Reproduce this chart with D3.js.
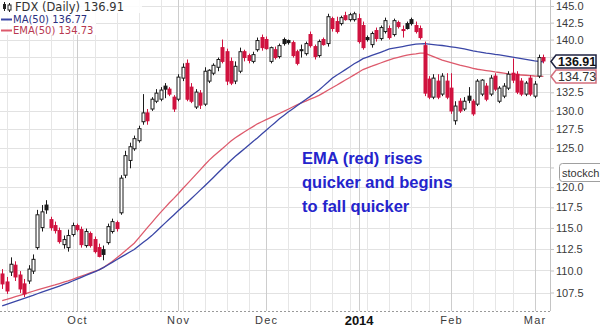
<!DOCTYPE html>
<html><head><meta charset="utf-8">
<script src="https://cdn.jsdelivr.net/npm/d3@7"></script>
<style>
html,body{margin:0;padding:0;background:#fff;}
svg{display:block;font-family:"Liberation Sans",Arial,sans-serif;}
</style></head>
<body><div id="chart"></div>
<script>
// ---------- DATA ----------
const dates = [
"2013-09-06","2013-09-09","2013-09-10","2013-09-11","2013-09-12","2013-09-13","2013-09-16","2013-09-17","2013-09-18","2013-09-19","2013-09-20","2013-09-23","2013-09-24","2013-09-25","2013-09-26","2013-09-27","2013-09-30",
"2013-10-01","2013-10-02","2013-10-03","2013-10-04","2013-10-07","2013-10-08","2013-10-09","2013-10-10","2013-10-11","2013-10-14","2013-10-15","2013-10-16","2013-10-17","2013-10-18","2013-10-21","2013-10-22","2013-10-23","2013-10-24","2013-10-25","2013-10-28","2013-10-29","2013-10-30","2013-10-31",
"2013-11-01","2013-11-04","2013-11-05","2013-11-06","2013-11-07","2013-11-08","2013-11-11","2013-11-12","2013-11-13","2013-11-14","2013-11-15","2013-11-18","2013-11-19","2013-11-20","2013-11-21","2013-11-22","2013-11-25","2013-11-26","2013-11-27","2013-11-29",
"2013-12-02","2013-12-03","2013-12-04","2013-12-05","2013-12-06","2013-12-09","2013-12-10","2013-12-11","2013-12-12","2013-12-13","2013-12-16","2013-12-17","2013-12-18","2013-12-19","2013-12-20","2013-12-23","2013-12-24","2013-12-26","2013-12-27","2013-12-30","2013-12-31",
"2014-01-02","2014-01-03","2014-01-06","2014-01-07","2014-01-08","2014-01-09","2014-01-10","2014-01-13","2014-01-14","2014-01-15","2014-01-16","2014-01-17","2014-01-21","2014-01-22","2014-01-23","2014-01-24","2014-01-27","2014-01-28","2014-01-29","2014-01-30","2014-01-31",
"2014-02-03","2014-02-04","2014-02-05","2014-02-06","2014-02-07","2014-02-10","2014-02-11","2014-02-12","2014-02-13","2014-02-14","2014-02-18","2014-02-19","2014-02-20","2014-02-21","2014-02-24","2014-02-25","2014-02-26","2014-02-27","2014-02-28",
"2014-03-03","2014-03-04","2014-03-05"];

const open = [109.60,108.69,109.82,110.61,109.48,108.47,108.80,109.93,112.66,115.04,117.78,116.00,115.28,114.68,113.01,112.66,114.21,
115.28,114.80,112.90,114.33,113.61,112.66,112.42,113.25,114.57,115.64,116.83,121.51,123.40,124.91,125.97,128.49,129.68,130.21,131.27,131.55,133.36,132.94,131.83,
131.55,134.48,136.57,133.22,130.48,132.39,130.87,134.06,135.17,136.01,138.83,138.24,136.85,134.06,135.45,138.24,137.68,136.85,138.53,140.30,
140.01,136.85,138.53,137.54,140.01,139.86,139.56,138.24,138.53,137.96,140.74,138.98,137.68,140.01,139.42,143.10,142.66,142.36,143.54,142.95,142.95,
143.10,142.07,140.30,139.27,141.33,140.15,141.18,141.63,140.74,142.51,141.48,142.36,142.95,142.07,141.63,139.12,134.34,131.83,134.06,132.25,134.06,
133.08,128.62,131.27,130.21,131.97,131.27,130.87,132.25,133.36,132.25,134.76,131.27,131.97,133.08,135.17,135.03,134.06,132.25,134.48,
131.97,134.76,137.40];
const high = [110.16,109.26,111.52,111.06,109.93,109.03,110.61,111.86,117.19,117.78,118.38,116.35,115.76,115.04,114.09,114.80,115.64,
115.52,115.16,114.92,114.57,113.97,113.13,112.90,115.52,116.12,115.88,121.51,124.65,125.71,126.64,127.96,132.25,130.21,131.83,132.94,133.22,133.78,133.22,132.11,
135.03,136.57,137.12,133.78,132.94,132.81,136.01,135.73,136.57,137.40,140.01,138.68,137.40,136.85,138.83,138.53,137.96,138.24,140.30,140.74,
140.45,138.98,138.98,139.42,140.30,140.01,139.86,138.53,139.27,139.71,141.18,139.27,140.01,140.30,143.83,143.39,143.39,143.54,144.13,143.98,144.13,
143.83,142.66,140.60,141.18,141.77,142.07,143.25,142.07,143.10,142.80,142.07,142.66,143.25,142.66,142.07,139.71,134.76,135.03,135.03,135.17,135.17,
135.17,131.27,131.69,131.83,133.22,131.55,134.34,134.34,133.78,134.90,135.17,133.36,133.78,135.45,137.26,135.45,134.48,134.06,134.90,
134.06,137.82,137.82];
const low = [107.90,107.34,109.37,108.80,107.45,107.00,108.47,109.60,112.42,114.57,116.71,114.68,114.33,113.13,112.54,112.19,113.97,
114.57,112.66,112.66,112.66,111.97,111.52,111.18,113.01,114.33,114.57,116.59,121.14,122.39,124.65,125.71,128.09,128.09,129.95,131.01,131.27,131.69,131.97,129.81,
131.27,134.06,131.27,131.01,130.21,130.21,130.61,133.78,134.89,135.45,136.57,133.50,133.50,133.64,135.17,136.85,136.57,136.57,138.24,138.39,
138.53,136.57,137.12,137.26,139.12,139.27,137.40,136.29,137.40,137.68,138.83,137.12,137.40,139.12,138.98,141.18,140.89,142.07,142.80,142.66,142.66,
139.42,138.53,139.71,138.83,139.71,139.86,140.89,140.01,140.45,141.63,140.30,141.48,142.07,140.89,140.01,131.97,131.55,131.55,131.55,131.97,131.55,
129.55,128.09,129.68,129.95,131.01,129.28,130.61,131.97,131.27,131.97,132.67,131.01,131.69,132.81,133.78,132.25,131.97,131.97,131.97,
131.69,134.48,136.57];
const close = [108.47,107.67,110.72,109.26,107.90,107.34,110.16,111.29,116.59,116.95,117.19,115.04,114.68,113.37,113.61,114.09,115.28,
114.80,113.01,114.57,112.90,112.19,111.63,111.86,115.16,115.76,114.92,121.14,124.02,125.18,126.24,127.56,129.68,128.62,131.55,132.39,132.81,132.94,132.25,130.21,
134.62,136.01,131.55,131.27,132.53,130.74,135.45,135.59,136.29,137.12,136.85,134.06,133.78,136.15,138.24,137.40,136.99,137.82,139.86,138.83,
138.68,138.83,137.40,139.12,139.42,139.56,137.68,136.57,138.38,139.42,139.12,137.54,139.71,139.27,143.39,141.63,141.18,143.25,142.95,143.69,143.83,
139.71,138.83,140.01,140.89,140.15,141.77,142.80,140.30,142.80,141.92,141.33,141.63,142.36,141.18,140.30,132.39,131.83,134.48,131.83,134.76,131.83,
129.95,130.61,129.95,131.27,131.41,129.55,134.06,134.20,131.55,134.48,132.94,133.08,133.36,135.03,134.20,132.53,132.25,133.78,132.25,
133.64,137.40,136.91];
const ma50 = [106.01,106.18,106.35,106.51,106.68,106.85,107.02,107.18,107.36,107.53,107.71,107.88,108.06,108.23,108.41,108.59,108.80,
109.01,109.22,109.43,109.64,109.85,110.07,110.33,110.63,110.94,111.24,111.55,111.84,112.14,112.44,112.85,113.26,113.65,114.08,114.58,115.08,115.58,116.07,116.57,
117.07,117.57,118.07,118.58,119.10,119.63,120.16,120.69,121.23,121.78,122.33,122.88,123.43,123.95,124.41,124.89,125.38,125.87,126.34,126.84,
127.35,127.87,128.37,128.89,129.34,129.79,130.22,130.66,131.08,131.51,131.94,132.37,132.82,133.36,133.89,134.45,134.88,135.27,135.68,136.09,136.51,
136.86,137.24,137.47,137.70,137.93,138.16,138.39,138.64,138.76,138.87,138.99,139.11,139.23,139.34,139.37,139.40,139.33,139.27,139.20,139.14,139.05,
138.95,138.86,138.77,138.65,138.52,138.37,138.24,138.14,138.04,137.96,137.86,137.78,137.68,137.58,137.47,137.36,137.26,137.15,137.04,
136.92,136.85,136.77];
const ema50 = [106.58,106.72,106.88,107.03,107.18,107.33,107.48,107.64,107.79,107.93,108.08,108.23,108.36,108.51,108.66,108.81,108.99,
109.18,109.36,109.54,109.72,109.90,110.08,110.35,110.69,111.04,111.44,111.86,112.28,112.72,113.17,113.79,114.41,115.03,115.64,116.27,116.88,117.47,118.07,118.61,
119.18,119.81,120.39,120.98,121.58,122.19,122.81,123.41,123.94,124.42,124.91,125.42,125.93,126.37,126.74,127.11,127.48,127.84,128.21,128.49,
128.77,129.05,129.32,129.60,129.89,130.18,130.48,130.77,131.06,131.30,131.55,131.80,132.08,132.43,132.78,133.13,133.48,133.85,134.21,134.56,134.94,
135.31,135.69,135.94,136.16,136.40,136.62,136.85,137.08,137.28,137.43,137.59,137.74,137.85,137.93,138.03,138.03,137.78,137.53,137.29,137.04,136.85,
136.67,136.50,136.30,136.16,136.02,135.87,135.73,135.63,135.54,135.45,135.35,135.27,135.17,135.08,135.01,134.96,134.92,134.88,134.83,
134.78,134.75,134.73];

const yTicks = [107.5,110,112.5,115,117.5,120,122.5,125,127.5,130,132.5,135,137.5,140,142.5,145];
const hiddenTickLabels = [122.5,135,137.5];   // covered by the tags / watermark in the original
const monthLabels = ["Oct","Nov","Dec","2014","Feb","Mar"];
const titleText = "FDX (Daily) 136.91";
const maLabel = "MA(50) 136.77";
const emaLabel = "EMA(50) 134.73";
const lastClose = 136.91, lastEma = 134.73;
const noteLines = ["EMA (red) rises","quicker and begins","to fall quicker"];
const watermark = "stockch";

// ---------- CHART ----------
const W = 600, H = 330, plotR = 550, plotB = 311;
const RED = "#d0123f", BLK = "#1a1a1a", MACOL = "#3a46a6", EMACOL = "#dd5a6c";
const svg = d3.select("#chart").append("svg").attr("width", W).attr("height", H);

const parse = d3.timeParse("%Y-%m-%d");
const dts = dates.map(parse);
const x = d3.scaleLinear().domain([-0.5, dates.length + 0.5]).range([0, plotR]);
const y = d3.scaleLog().domain([107.5, 145]).range([292.5, 6]);

const monthIdx = [];
dts.forEach((d, i) => { if (i > 0 && d.getMonth() !== dts[i-1].getMonth()) monthIdx.push(i); });
const mondayIdx = [];
dts.forEach((d, i) => { if (i > 0 && (d.getDay() < dts[i-1].getDay() || (d - dts[i-1]) > 4*864e5)) mondayIdx.push(i); });

const grid = svg.append("g");
grid.selectAll("line.h").data(yTicks).join("line")
  .attr("x1", 0).attr("x2", plotR).attr("y1", d => Math.round(y(d)) + 0.5).attr("y2", d => Math.round(y(d)) + 0.5)
  .attr("stroke", "#e2e2e2");
grid.selectAll("line.w").data(mondayIdx.filter(i => !monthIdx.includes(i))).join("line")
  .attr("y1", 0).attr("y2", plotB).attr("x1", i => Math.round(x(i)) + 0.5).attr("x2", i => Math.round(x(i)) + 0.5)
  .attr("stroke", "#e6e6e6");
grid.selectAll("line.m").data(monthIdx).join("line")
  .attr("y1", 0).attr("y2", plotB).attr("x1", i => Math.round(x(i)) + 0.5).attr("x2", i => Math.round(x(i)) + 0.5)
  .attr("stroke", "#cdcdcd");

svg.append("line").attr("x1", plotR + 0.5).attr("x2", plotR + 0.5).attr("y1", 0).attr("y2", plotB)
  .attr("stroke", "#c4c4c4");
svg.append("line").attr("x1", 0).attr("x2", plotR).attr("y1", plotB + 0.5).attr("y2", plotB + 0.5)
  .attr("stroke", "#9a9a9a").attr("stroke-dasharray", "2,2");

// y axis
const yAxis = svg.append("g").attr("transform", `translate(${plotR},0)`)
  .call(d3.axisRight(y).tickValues(yTicks)
    .tickFormat(d => hiddenTickLabels.includes(d) ? "" : d3.format(".1f")(d)).tickSize(4).tickPadding(2));
yAxis.select(".domain").remove();
yAxis.selectAll("line").attr("stroke", "#c4c4c4");
yAxis.selectAll("text").attr("fill", "#3a3a3a").attr("font-size", 11).attr("font-family", "Liberation Sans, Arial");

// x axis
const xAxis = svg.append("g").attr("transform", `translate(0,${plotB})`)
  .call(d3.axisBottom(x).tickValues(monthIdx).tickFormat((d, k) => monthLabels[k]).tickSize(0).tickPadding(5));
xAxis.select(".domain").remove();
xAxis.selectAll("text")
  .attr("font-weight", (d, k) => monthLabels[k] === "2014" ? "bold" : "normal")
  .attr("font-size", (d, k) => monthLabels[k] === "2014" ? 13 : 11)
  .attr("fill", (d, k) => monthLabels[k] === "2014" ? "#111" : "#3a3a3a")
  .attr("letter-spacing", (d, k) => monthLabels[k] === "2014" ? 0 : 1.2);

svg.append("clipPath").attr("id", "clip").append("rect").attr("x", 0).attr("y", 0).attr("width", plotR).attr("height", plotB);
const plot = svg.append("g").attr("clip-path", "url(#clip)");

const line = d3.line().x((d, i) => x(i)).y(d => y(d));
plot.append("path").datum(ema50).attr("d", line).attr("fill", "none").attr("stroke", EMACOL).attr("stroke-width", 1.3);
plot.append("path").datum(ma50).attr("d", line).attr("fill", "none").attr("stroke", MACOL).attr("stroke-width", 1.3);

const idx = d3.range(dates.length);
const col = i => close[i] < (i > 0 ? close[i-1] : open[i]) ? RED : BLK;
const cx = i => Math.round(x(i)) + 0.5;
plot.selectAll("line.wick").data(idx).join("line")
  .attr("x1", cx).attr("x2", cx).attr("y1", i => y(high[i])).attr("y2", i => y(low[i]))
  .attr("stroke", col).attr("stroke-width", 1);
plot.selectAll("rect.body").data(idx).join("rect")
  .attr("x", i => cx(i) - 1.5).attr("width", 3)
  .attr("y", i => y(Math.max(open[i], close[i])))
  .attr("height", i => Math.max(1, Math.abs(y(open[i]) - y(close[i]))))
  .attr("fill", i => close[i] < open[i] ? col(i) : "#fff")
  .attr("stroke", col).attr("stroke-width", 1);

// legend
const lg = svg.append("g");
lg.append("rect").attr("x", 0).attr("y", 0).attr("width", 142).attr("height", 13).attr("fill", "#fff").attr("opacity", 0.85);
lg.append("rect").attr("x", 0).attr("y", 13).attr("width", 96).attr("height", 11).attr("fill", "#fff").attr("opacity", 0.85);
lg.append("rect").attr("x", 0).attr("y", 24).attr("width", 112).attr("height", 11).attr("fill", "#fff").attr("opacity", 0.85);
lg.append("line").attr("x1", 4.5).attr("x2", 4.5).attr("y1", 2).attr("y2", 11).attr("stroke", "#222");
lg.append("rect").attr("x", 3).attr("y", 4).attr("width", 3).attr("height", 5).attr("fill", "#222");
lg.append("line").attr("x1", 9.5).attr("x2", 9.5).attr("y1", 3).attr("y2", 12).attr("stroke", "#222");
lg.append("rect").attr("x", 8).attr("y", 5).attr("width", 3).attr("height", 5).attr("fill", "#fff").attr("stroke", "#222");
lg.append("text").attr("x", 15).attr("y", 11).attr("font-family", "DejaVu Sans, Verdana").attr("font-size", 11.5)
  .attr("fill", "#333").text(titleText);
lg.append("line").attr("x1", 1).attr("x2", 12).attr("y1", 19.5).attr("y2", 19.5).attr("stroke", MACOL).attr("stroke-width", 2);
lg.append("text").attr("x", 13).attr("y", 23).attr("font-family", "DejaVu Sans, Verdana").attr("font-size", 10)
  .attr("fill", "#2a2f80").text(maLabel);
lg.append("line").attr("x1", 1).attr("x2", 12).attr("y1", 30.5).attr("y2", 30.5).attr("stroke", EMACOL).attr("stroke-width", 2);
lg.append("text").attr("x", 13).attr("y", 34).attr("font-family", "DejaVu Sans, Verdana").attr("font-size", 10)
  .attr("fill", "#b83850").text(emaLabel);

// annotation
const note = svg.append("text").attr("font-family", "Liberation Sans, Arial").attr("font-weight", "bold")
  .attr("font-size", 16.5).attr("fill", "#2424cc");
noteLines.forEach((t, k) => note.append("tspan").attr("x", 302).attr("y", 164 + k * 24).text(t));

// price tags
function tag(v, stroke, bold) {
  const yc = Math.round(y(v)) + 0.5;
  const g = svg.append("g");
  g.append("path").attr("d", `M${plotR + 1},${yc} L${plotR + 6},${yc - 6.5} L596,${yc - 6.5} L596,${yc + 6.5} L${plotR + 6},${yc + 6.5} Z`)
    .attr("fill", "#fff").attr("stroke", stroke).attr("stroke-width", 1.5);
  g.append("text").attr("x", plotR + 8).attr("y", yc + 4.5).attr("font-size", 12.5)
    .attr("font-weight", bold ? "bold" : "normal").attr("fill", bold ? "#111" : "#333").text(d3.format(".2f")(v));
}
tag(lastEma, "#d4707e", false);
tag(lastClose, "#1e2240", true);

// watermark box (cut by the right edge as in the original)
const wm = svg.append("g");
wm.append("rect").attr("x", 559.5).attr("y", 163.5).attr("width", 60).attr("height", 18).attr("rx", 3)
  .attr("fill", "#fff").attr("stroke", "#a0a0a0");
wm.append("text").attr("x", 562).attr("y", 176.5).attr("font-size", 11).attr("fill", "#333")
  .attr("font-family", "Liberation Sans, Arial").text(watermark);
</script></body></html>
